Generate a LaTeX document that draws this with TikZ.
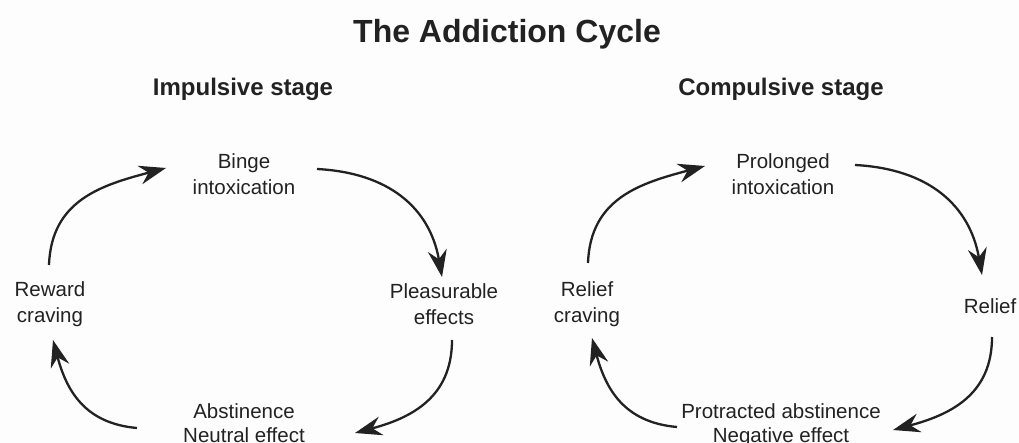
\documentclass[tikz,border=0pt]{standalone}
\usepackage{fontspec}
\setmainfont{Liberation Sans}
\usetikzlibrary{arrows.meta}
\definecolor{ink}{HTML}{222222}
\definecolor{paper}{HTML}{FDFDFD}
\begin{document}
\begin{tikzpicture}[x=1pt,y=1pt,
  lbl/.style={inner sep=0pt,align=center,text=ink,
    font=\fontsize{20.5}{26}\selectfont},
  lowlbl/.style={lbl,anchor=north,font=\fontsize{20.5}{24}\selectfont},
  headline/.style={inner sep=0pt,text=ink,anchor=base,
    font=\bfseries\fontsize{24}{28}\selectfont},
  cyc/.style={draw=ink,line width=2.3pt,
    -{Stealth[length=27pt,width=19pt,inset=9pt]}}]
% canvas
\fill[paper] (0,0) rectangle (1019,-443);
\useasboundingbox (0,0) rectangle (1019,-443);
% headings
\node[headline,font=\bfseries\fontsize{32}{36}\selectfont] (title) at (507,-43) {The Addiction Cycle};
\node[headline] (imp) at (243,-96) {Impulsive stage};
\node[headline] (comp) at (781,-96) {Compulsive stage};
% impulsive cycle
\node[lbl] (binge) at (244,-174) {Binge\\intoxication};
\node[lbl] (rew)   at (50,-304)  {Reward\\craving};
\node[lbl] (plea)  at (444,-304) {Pleasurable\\effects};
\node[lowlbl] (abst) at (244,-403) {Abstinence\\Neutral effect};
\draw[cyc] ([shift={(-1,39)}]rew.center) to[out=88,in=195,looseness=1.1] ([shift={(-78,6)}]binge.center);
\draw[cyc] ([shift={(73,5)}]binge.center) to[out=-3,in=100,looseness=1.1] ([shift={(-2,27)}]plea.center);
\draw[cyc] ([shift={(8,-36)}]plea.center) to[out=-90,in=15,looseness=1.1] ([shift={(111,-30)}]abst.north);
\draw[cyc] ([shift={(-107,-25)}]abst.north) to[out=175,in=-75,looseness=1.1] ([shift={(3,-36)}]rew.center);
% compulsive cycle
\node[lbl] (prol) at (783,-174) {Prolonged\\intoxication};
\node[lbl] (rcr)  at (587,-304) {Relief\\craving};
\node[lbl,anchor=base] (rel) at (990,-313) {Relief};
\node[lowlbl] (prot) at (781,-403) {Protracted abstinence\\Negative effect};
\draw[cyc] ([shift={(1,41)}]rcr.center) to[out=88,in=195,looseness=1.1] ([shift={(-78,8)}]prol.center);
\draw[cyc] ([shift={(72,9)}]prol.center) to[out=-3,in=100,looseness=1.1] ([shift={(-8,38)}]rel.base);
\draw[cyc] ([shift={(2,-24)}]rel.base) to[out=-90,in=15,looseness=1.1] ([shift={(112,-27)}]prot.north);
\draw[cyc] ([shift={(-104,-24)}]prot.north) to[out=175,in=-75,looseness=1.1] ([shift={(5,-34)}]rcr.center);
\end{tikzpicture}
\end{document}
